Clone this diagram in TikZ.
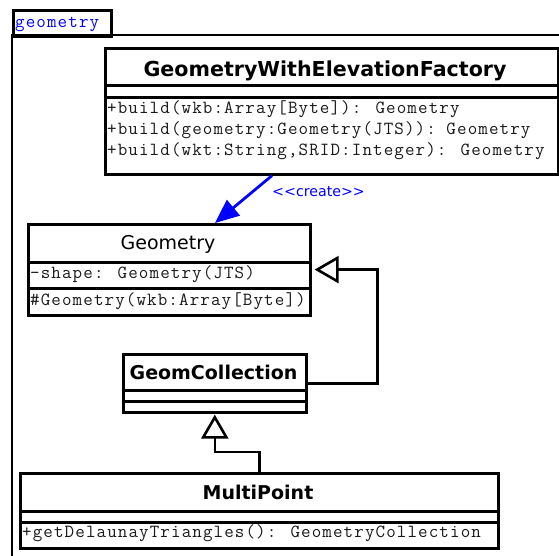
\documentclass[tikz,border=0pt]{standalone}
\usepackage{fontspec}
\setmainfont{DejaVu Sans}
\newfontfamily\umlmono[LetterSpace=6]{Latin Modern Mono}
\usetikzlibrary{arrows.meta}
\definecolor{umlblue}{RGB}{0,0,255}
\tikzset{
  compart/.style={draw, line width=2.6pt, anchor=north west, inner sep=0pt,
                  minimum width=#1},
  member/.style={anchor=base west, inner sep=0pt, text=black!90,
                 font=\umlmono\fontsize{18.5}{20}\selectfont},
  cname/.style={anchor=base, inner sep=0pt, font=\bfseries\fontsize{19}{22}\selectfont},
  gen/.style={line width=2.6pt, -{Triangle[open,length=24pt,width=27pt,fill=white]}},
  create/.style={umlblue, line width=2.8pt, -{Triangle[length=24pt,width=20pt]}}
}
\begin{document}
\begin{tikzpicture}[x=1pt,y=-1pt]
\useasboundingbox (0,0) rectangle (559,555);
\clip (0,0) rectangle (559,555);
\fill[white] (0,0) rectangle (559,555);

% package frame with its tab
\draw[line width=2.9pt] (12,35) rectangle (600,600);
\node[compart=98, minimum height=26, line width=2.7pt] (pkgtab) at (12,9) {};
\node[member, text=umlblue] (pkgname) at (15,27) {geometry};

% GeometryWithElevationFactory
\node[compart=453, minimum height=37] (facname) at (104,47) {};
\node[compart=453, minimum height=12] (facattr) at (104,84) {};
\node[compart=453, minimum height=77] (facops)  at (104,96) {};
\node[cname, font=\bfseries\fontsize{20.6}{22}\selectfont] (factxt) at (325,76) {GeometryWithElevationFactory};
\node[member] (fop1) at (107,113) {+build(wkb:Array[Byte]): Geometry};
\node[member] (fop2) at (107,134) {+build(geometry:Geometry(JTS)): Geometry};
\node[member] (fop3) at (107,155) {+build(wkt:String,SRID:Integer): Geometry};

% Geometry
\node[compart=282, minimum height=38] (geoname) at (27,223) {};
\node[compart=282, minimum height=26] (geoattr) at (27,261) {};
\node[compart=282, minimum height=27] (geoops)  at (27,287) {};
\node[cname, font=\fontsize{19}{22}\selectfont] (geotxt) at (168,249.5) {Geometry};
\node[member] (geoa1) at (30,278.5) {-shape: Geometry(JTS)};
\node[member] (geoo1) at (30,305) {\#Geometry(wkb:Array[Byte])};

% GeomCollection
\node[compart=183, minimum height=36] (gcname) at (122,353) {};
\node[compart=183, minimum height=11] (gcattr) at (122,389) {};
\node[compart=183, minimum height=11] (gcops)  at (122,400) {};
\node[cname] (gctxt) at (213.5,379.5) {GeomCollection};

% MultiPoint
\node[compart=478, minimum height=38] (mpname) at (19,472) {};
\node[compart=478, minimum height=11] (mpattr) at (19,510) {};
\node[compart=478, minimum height=26] (mpops)  at (19,521) {};
\node[cname] (mptxt) at (258,499.5) {MultiPoint};
\node[member] (mpo1) at (22,537) {+getDelaunayTriangles(): GeometryCollection};

% factory creates geometries
\draw[create] ([xshift=168pt]facops.south west) -- ([xshift=188pt]geoname.north west);
\node[anchor=base west, inner sep=0pt, text=umlblue, font=\fontsize{14.2}{16}\selectfont]
  (createlbl) at (272,196.5) {\textless\kern0pt\textless create\textgreater\kern0pt\textgreater};

% generalizations
\draw[gen] ([yshift=-11pt]gcname.east) -- ++(70,0) |- ([xshift=3pt,yshift=-6pt]geoname.south east);
\draw[gen] (mpname.north) -- ++(0,-20) -| ([yshift=-1pt]gcops.south);
\end{tikzpicture}
\end{document}
